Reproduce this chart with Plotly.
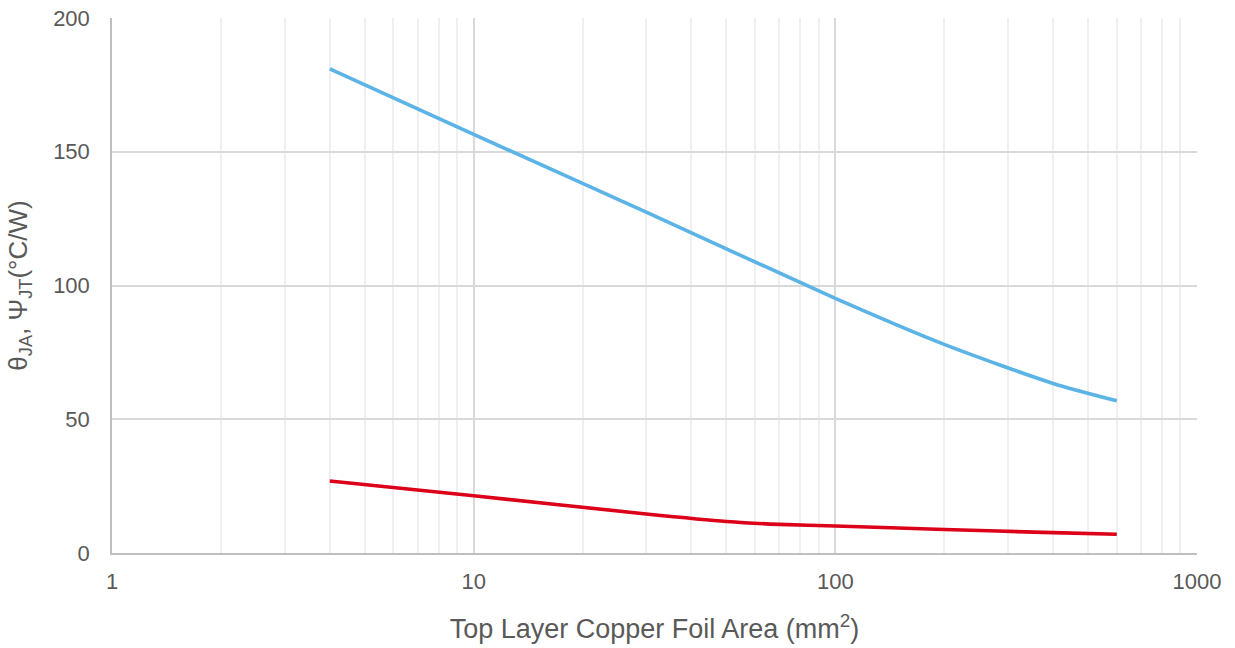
import plotly.graph_objects as go

# Copper foil area (mm^2) and thermal resistance values (°C/W)
area_ja = [4, 10, 30, 100, 200, 400, 600]
theta_ja = [181.0, 156.5, 127.4, 95.2, 78.0, 63.4, 56.9]

area_jt = [4, 10, 30, 50, 70, 100, 200, 400, 600]
psi_jt = [26.9, 21.4, 14.6, 11.8, 10.7, 10.1, 8.8, 7.6, 7.0]

x_ticks = [1, 10, 100, 1000]
x_minor = [m * d for d in (1, 10, 100) for m in range(2, 10)]
y_ticks = [0, 50, 100, 150, 200]

font_family = "Liberation Sans, Arial, sans-serif"
text_color = "#595959"

fig = go.Figure()
fig.add_trace(go.Scatter(
    x=area_ja, y=theta_ja, mode="lines", name="θJA",
    line=dict(color="#5BB3E6", width=3.6, shape="spline", smoothing=0.7),
))
fig.add_trace(go.Scatter(
    x=area_jt, y=psi_jt, mode="lines", name="ΨJT",
    line=dict(color="#DC0019", width=3.6, shape="spline", smoothing=0.6),
))

fig.update_layout(
    width=1235, height=648,
    margin=dict(l=112, r=38, t=18, b=95),
    paper_bgcolor="white", plot_bgcolor="white",
    showlegend=False,
    font=dict(family=font_family, color=text_color, size=22),
)
fig.update_xaxes(
    type="log", range=[0, 3], automargin=False,
    tickmode="array", tickvals=x_ticks, ticktext=[str(v) for v in x_ticks],
    tickfont=dict(size=22, color=text_color),
    ticks="outside", ticklen=8, tickcolor="rgba(0,0,0,0)",
    showgrid=True, gridcolor="#D9D9D9", gridwidth=1.5,
    minor=dict(tickmode="array", tickvals=x_minor, showgrid=True,
               gridcolor="#EFEFEF", gridwidth=1.5, ticks=""),
    showline=True, linecolor="#BFBFBF", linewidth=1.5,
    zeroline=False,
    title=dict(text="Top Layer Copper Foil Area (mm<sup>2</sup>)",
               font=dict(size=27, color=text_color), standoff=26),
)
fig.update_yaxes(
    range=[0, 200], automargin=False,
    tickmode="array", tickvals=y_ticks,
    tickfont=dict(size=22, color=text_color),
    ticks="outside", ticklen=16, tickcolor="rgba(0,0,0,0)",
    showgrid=True, gridcolor="#D9D9D9", gridwidth=1.5,
    showline=True, linecolor="#BFBFBF", linewidth=1.5,
    zeroline=False,
    title=dict(text="θ<sub>JA</sub>, Ψ<sub>JT</sub>(°C/W)",
               font=dict(size=26, color=text_color), standoff=18),
)

fig.write_html("out.html")
